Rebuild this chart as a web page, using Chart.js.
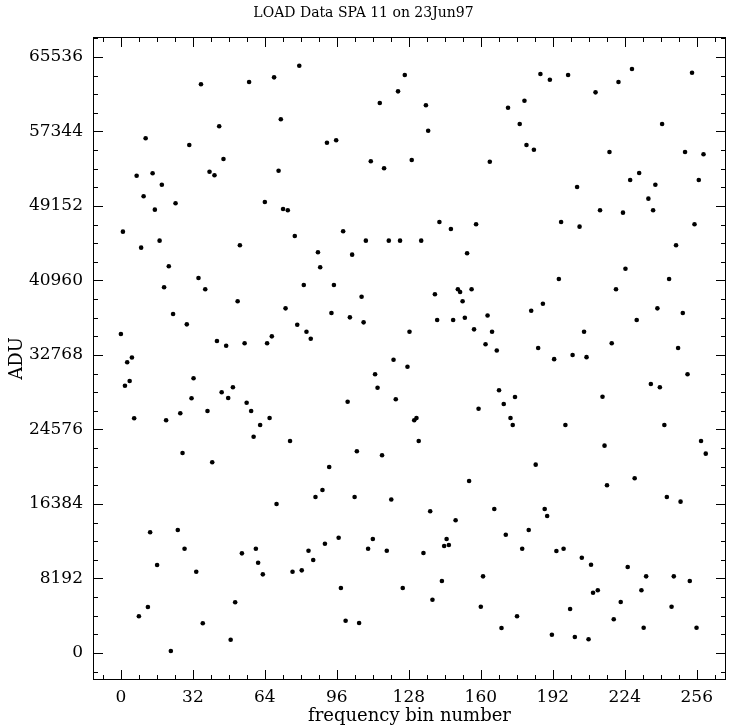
<!DOCTYPE html>
<html>
<head>
<meta charset="utf-8">
<title>LOAD Data SPA 11 on 23Jun97</title>
<script src="https://cdn.jsdelivr.net/npm/chart.js@4.4.0/dist/chart.umd.min.js"></script>
<style>
  html, body { margin: 0; padding: 0; background: #fff; }
  #wrap { width: 730px; height: 728px; }
</style>
</head>
<body>
<div id="wrap"><canvas id="myChart" width="730" height="728"></canvas></div>
<script>
// frequency bin of each sample
var binNumber = [
  0, 0.9, 1.8, 2.8, 3.9, 4.9, 5.9, 7.0, 8.0, 9.0, 10.1, 11.0, 12.0, 13.0, 14.1, 15.1,
  16.1, 17.2, 18.2, 19.2, 20.1, 21.3, 22.2, 23.2, 24.3, 25.3, 26.4, 27.4, 28.3, 29.3, 30.4, 31.4,
  32.3, 33.5, 34.5, 35.6, 36.4, 37.5, 38.5, 39.4, 40.6, 41.6, 42.7, 43.7, 44.8, 45.6, 46.8, 47.7,
  48.8, 49.8, 50.8, 51.9, 52.9, 53.8, 55.0, 55.9, 57.0, 57.9, 59.0, 60.0, 61.0, 61.9, 63.1, 64.0,
  65.0, 66.1, 67.1, 68.1, 69.2, 70.1, 71.1, 72.1, 73.2, 74.2, 75.2, 76.3, 77.3, 78.4, 79.3, 80.4,
  81.3, 82.5, 83.4, 84.4, 85.5, 86.5, 87.6, 88.6, 89.6, 90.7, 91.6, 92.6, 93.6, 94.7, 95.7, 96.8,
  97.8, 98.8, 99.9, 100.8, 101.8, 102.8, 103.9, 104.9, 105.9, 107.0, 107.9, 108.9, 109.9, 111.1, 112.0, 113.0,
  114.1, 115.1, 116.1, 117.0, 118.2, 119.1, 120.2, 121.2, 122.2, 123.2, 124.1, 125.3, 126.2, 127.4, 128.3, 129.3,
  130.4, 131.4, 132.4, 133.5, 134.5, 135.6, 136.6, 137.5, 138.5, 139.6, 140.6, 141.6, 142.7, 143.7, 144.8, 145.8,
  146.7, 147.7, 148.8, 149.8, 150.8, 151.9, 152.9, 153.9, 154.8, 155.9, 157.0, 157.9, 159.0, 160.0, 161.0, 162.1,
  163.0, 164.0, 165.0, 166.0, 167.1, 168.1, 169.2, 170.2, 171.1, 172.1, 173.2, 174.2, 175.2, 176.1, 177.3, 178.4,
  179.4, 180.3, 181.3, 182.4, 183.6, 184.4, 185.5, 186.5, 187.6, 188.4, 189.5, 190.7, 191.6, 192.6, 193.6, 194.7,
  195.7, 196.8, 197.6, 198.8, 199.7, 200.8, 201.8, 202.8, 203.9, 204.9, 205.9, 207.0, 207.9, 209.0, 209.9, 211.0,
  212.0, 213.0, 214.1, 215.0, 216.1, 217.2, 218.2, 219.1, 220.1, 221.2, 222.2, 223.2, 224.3, 225.3, 226.4, 227.2,
  228.4, 229.3, 230.4, 231.4, 232.4, 233.5, 234.5, 235.6, 236.6, 237.6, 238.5, 239.6, 240.6, 241.6, 242.7, 243.7,
  244.8, 245.8, 246.8, 247.7, 248.8, 249.8, 250.8, 251.9, 252.9, 253.9, 255.0, 255.9, 256.9, 257.9, 259.0, 260.0
];

// ADU value of each sample
var adu = [
  35080, 46330, 29390, 31970, 29910, 32490, 25810, 52480, 4040, 44570, 50220, 56600, 5060, 13270, 52750, 48750,
  9680, 45340, 51490, 40210, 25590, 42520, 220, 37280, 49450, 13530, 26360, 21990, 11470, 36140, 55860, 28010,
  30210, 8940, 41240, 62540, 3270, 39990, 26610, 52920, 20970, 52530, 34310, 57920, 28670, 54320, 33790, 28040,
  1460, 29220, 5580, 38670, 44830, 10960, 34060, 27520, 62790, 26610, 23780, 11470, 9930, 25070, 8650, 49590,
  34060, 25840, 34820, 63300, 16380, 53030, 58690, 48820, 37900, 48680, 23310, 8940, 45850, 36100, 64580, 9090,
  40470, 35330, 11250, 34560, 10230, 17150, 44060, 42410, 17920, 12020, 56110, 20450, 37390, 40470, 56380, 12680,
  7150, 46370, 3550, 27630, 36910, 43800, 17150, 22180, 3300, 39180, 36360, 45340, 11470, 54070, 12540, 30650,
  29170, 60480, 21740, 53300, 11250, 45340, 16880, 32240, 27900, 61760, 45340, 7150, 63560, 31480, 35330, 54210,
  25590, 25840, 23310, 45340, 11000, 60230, 57430, 15580, 5860, 39440, 36620, 47390, 7920, 11770, 12540, 11880,
  46620, 36620, 14590, 39990, 39700, 38670, 36870, 43950, 18910, 39990, 35590, 47140, 26860, 5090, 8430, 33950,
  37110, 54020, 35330, 15830, 33260, 28890, 2750, 27380, 13010, 59960, 25840, 25070, 28150, 4040, 58170, 11470,
  60730, 55860, 13530, 37640, 55340, 20710, 33540, 63670, 38410, 15830, 15070, 63040, 2010, 32310, 11220, 41130,
  47390, 11470, 25070, 63560, 4840, 32770, 1760, 51240, 46880, 10470, 35330, 32530, 1510, 9710, 6630, 61650,
  6900, 48680, 28180, 22800, 18440, 55090, 34060, 3710, 39990, 62790, 5610, 48420, 42260, 9460, 52010, 64220,
  19210, 36620, 52780, 6900, 2780, 8430, 49960, 29580, 48680, 51490, 37900, 29220, 58170, 25070, 17150, 41130,
  5090, 8430, 44830, 33540, 16640, 37390, 55090, 30650, 7920, 63810, 47140, 2780, 52010, 23310, 54840, 21920
];

var xTickLabels = [0, 32, 64, 96, 128, 160, 192, 224, 256];
var yTickLabels = [0, 8192, 16384, 24576, 32768, 40960, 49152, 57344, 65536];

var points = binNumber.map(function (b, i) { return { x: b, y: adu[i] }; });

var fontFamily = '"DejaVu Serif", "Liberation Serif", serif';

// PGPLOT-like box: frame plus inward major/minor ticks on all four sides
var frameTicks = {
  id: 'frameTicks',
  afterDraw: function (chart) {
    var ctx = chart.ctx;
    var a = chart.chartArea;
    var xs = chart.scales.x, ys = chart.scales.y;
    ctx.save();
    ctx.strokeStyle = '#000';
    ctx.lineWidth = 1;
    ctx.strokeRect(a.left + 0.5, a.top + 0.5, a.right - a.left - 1, a.bottom - a.top - 1);
    ctx.beginPath();
    var v, p, len;
    for (v = Math.ceil(xs.min / 8) * 8; v <= xs.max; v += 8) {
      p = Math.round(xs.getPixelForValue(v)) + 0.5;
      len = (v % 32 === 0) ? 10 : 5;
      ctx.moveTo(p, a.bottom); ctx.lineTo(p, a.bottom - len);
      ctx.moveTo(p, a.top); ctx.lineTo(p, a.top + len);
    }
    for (v = Math.ceil(ys.min / 2048) * 2048; v <= ys.max; v += 2048) {
      p = Math.round(ys.getPixelForValue(v)) + 0.5;
      len = (v % 8192 === 0) ? 10 : 5;
      ctx.moveTo(a.left, p); ctx.lineTo(a.left + len, p);
      ctx.moveTo(a.right, p); ctx.lineTo(a.right - len, p);
    }
    ctx.stroke();
    ctx.restore();
  }
};

var ctx = document.getElementById('myChart').getContext('2d');
var myChart = new Chart(ctx, {
  type: 'scatter',
  data: {
    datasets: [{
      data: points,
      backgroundColor: '#000',
      borderColor: '#000',
      pointRadius: 2.3,
      pointBorderWidth: 0
    }]
  },
  options: {
    responsive: false,
    animation: false,
    devicePixelRatio: 1,
    layout: { padding: { left: 0, right: 3, top: 0, bottom: 0 } },
    plugins: {
      legend: { display: false },
      tooltip: { enabled: false },
      title: {
        display: true,
        text: 'LOAD Data SPA 11 on 23Jun97',
        color: '#000',
        font: { family: fontFamily, size: 14, weight: 'normal', lineHeight: 1.2 },
        padding: { top: 5, bottom: 15.2 }
      }
    },
    scales: {
      x: {
        type: 'linear',
        min: -12.4,
        max: 269,
        grid: { display: false, drawTicks: false },
        border: { display: false },
        afterBuildTicks: function (scale) {
          scale.ticks = xTickLabels.map(function (v) { return { value: v }; });
        },
        afterFit: function (scale) { scale.height = 48; },
        ticks: {
          color: '#000',
          padding: 7,
          maxRotation: 0,
          autoSkip: false,
          font: { family: fontFamily, size: 17 }
        },
        title: {
          display: true,
          text: 'frequency bin number',
          color: '#000',
          font: { family: fontFamily, size: 18, lineHeight: 1.2 },
          padding: { top: 0, bottom: 1 }
        }
      },
      y: {
        type: 'linear',
        min: -2969,
        max: 67735,
        grid: { display: false, drawTicks: false },
        border: { display: false },
        afterBuildTicks: function (scale) {
          scale.ticks = yTickLabels.map(function (v) { return { value: v }; });
        },
        afterFit: function (scale) { scale.width = 93; },
        ticks: {
          color: '#000',
          padding: 10,
          autoSkip: false,
          font: { family: fontFamily, size: 17 },
          callback: function (v) { return String(v); }
        },
        title: {
          display: true,
          text: 'ADU',
          color: '#000',
          font: { family: fontFamily, size: 18, lineHeight: 1.2 },
          padding: { top: 7, bottom: 0 }
        }
      }
    }
  },
  plugins: [frameTicks]
});
</script>
</body>
</html>
